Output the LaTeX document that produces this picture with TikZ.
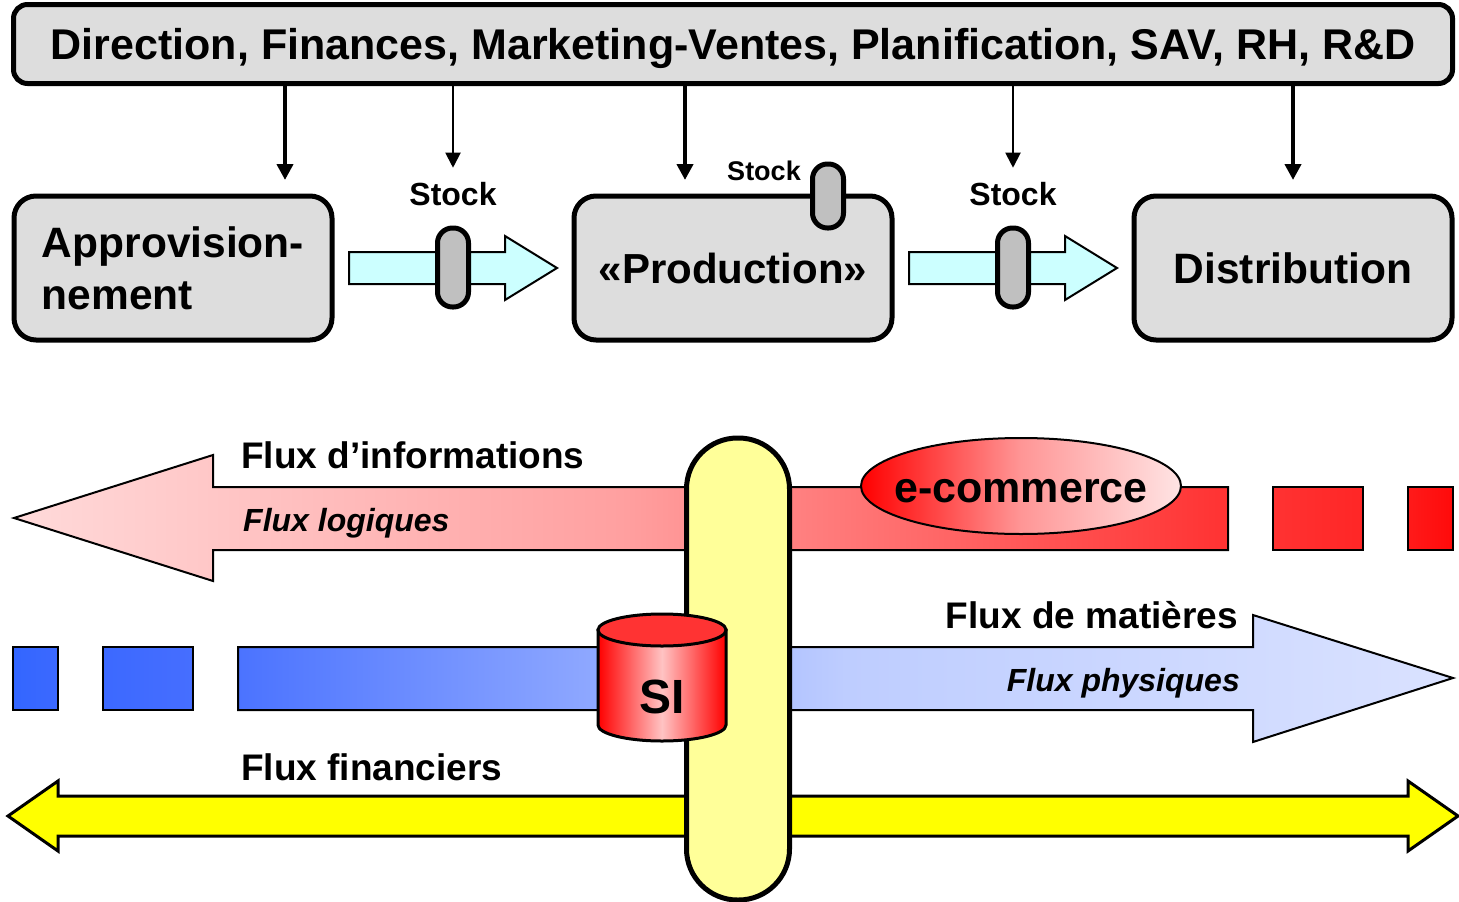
\documentclass[tikz,border=0pt]{standalone}
\usepackage{fontspec}
\setmainfont{Liberation Sans}
\usetikzlibrary{arrows.meta,positioning,shapes,calc}
\definecolor{boxgray}{RGB}{221,221,221}
\definecolor{pillgray}{RGB}{192,192,192}
\definecolor{stockcyan}{RGB}{204,255,255}
\definecolor{busyellow}{RGB}{255,255,153}
\definecolor{fluxyellow}{RGB}{255,255,0}
\definecolor{siared}{RGB}{255,51,51}
\definecolor{sipale}{RGB}{255,195,195}
\definecolor{purered}{RGB}{255,0,0}
\tikzset{
  % boites du haut
  procbox/.style={
    draw=black,
    line width=5pt,
    fill=boxgray,
    rounded corners=22pt,
    minimum width=318pt,
    minimum height=144pt,
    font=\fontsize{42.5}{52}\selectfont\bfseries
  },
  pill/.style={
    draw=black,
    line width=5pt,
    fill=pillgray,
    rounded corners=15pt,
    minimum width=31pt,
    inner sep=0pt
  },
  % fleches
  bigarr/.style={-{Triangle[length=16pt,width=16pt]}, line width=4.5pt, shorten >=15pt},
  thinarr/.style={-{Triangle[length=15pt,width=15pt]}, line width=2pt, shorten >=11pt},
  stockarr/.style={draw=black, line width=2pt, fill=stockcyan},
  fluxlab/.style={font=\fontsize{37}{40}\selectfont\bfseries},
  fluxsub/.style={font=\fontsize{32}{36}\selectfont\bfseries\itshape},
  stocklab/.style={font=\fontsize{32}{34}\selectfont\bfseries},
}
\begin{document}
\begin{tikzpicture}[x=1pt,y=-1pt]
  \useasboundingbox (0,0) rectangle (1459,902);

  % Direction
  \node[draw=black, line width=5pt, fill=boxgray, rounded corners=14pt,
        minimum width=1439pt, minimum height=79pt, text depth=0pt,
        font=\fontsize{43}{46}\selectfont\bfseries] (dir) at (733,44)
        {Direction, Finances, Marketing-Ventes, Planification, SAV, RH, R\&D};

  % Processus
  \node[procbox, align=left] (appro) at (173,268) {Approvision-\\nement};
  \node[procbox, font=\fontsize{42}{52}\selectfont\bfseries] (prod) at (733,268) {«Production»};
  \node[procbox] (distrib) at (1293,268) {Distribution};

  % Stocks
  \node[stocklab] (stockA) at (453,194) {Stock};
  \node[stocklab] (stockB) at (1013,194) {Stock};
  \node[font=\fontsize{27}{30}\selectfont\bfseries] (stockC) at (764,171) {Stock};
  \draw[stockarr] (349,252) -- (505,252) -- (505,236) -- (557,268) -- (505,300) -- (505,284) -- (349,284) -- cycle;
  \draw[stockarr] (909,252) -- (1065,252) -- (1065,236) -- (1117,268) -- (1065,300) -- (1065,284) -- (909,284) -- cycle;
  \node[pill, minimum height=79pt] (pillA) at (453,267.5) {};
  \node[pill, minimum height=79pt] (pillB) at (1013,267.5) {};
  \node[pill, minimum height=64pt] (pillC) at (828,196) {};

  \coordinate (approin) at (285,195);
  \coordinate (prodin) at (685,195);
  \coordinate (distribin) at (1293,195);
  \draw[bigarr] (dir.south -| approin) -- (approin);
  \draw[bigarr] (dir.south -| prodin) -- (prodin);
  \draw[bigarr] (dir.south -| distribin) -- (distribin);
  \draw[thinarr] (dir.south -| stockA) -- (stockA.north);
  \draw[thinarr] (dir.south -| stockB) -- (stockB.north);

  % Flux d'informations
  \path[draw=black, line width=2pt, left color={rgb,255:red,255;green,218;blue,218},
        right color={rgb,255:red,255;green,50;blue,50}, middle color={rgb,255:red,255;green,160;blue,160}]
    (14,518) -- (213,455) -- (213,487) -- (1228,487) -- (1228,550) -- (213,550) -- (213,581) -- cycle;
  \path[draw=black, line width=2pt, left color={rgb,255:red,255;green,50;blue,50}, right color={rgb,255:red,255;green,38;blue,38}]
    (1273,487) rectangle (1363,550);
  \path[draw=black, line width=2pt, left color={rgb,255:red,255;green,26;blue,26}, right color={rgb,255:red,255;green,10;blue,10}]
    (1408,487) rectangle (1453,550);

  % Flux de matieres
  \path[draw=black, line width=2pt, left color={rgb,255:red,51;green,102;blue,255}, right color={rgb,255:red,60;green,105;blue,255}]
    (13,647) rectangle (58,710);
  \path[draw=black, line width=2pt, left color={rgb,255:red,60;green,105;blue,255}, right color={rgb,255:red,70;green,110;blue,255}]
    (103,647) rectangle (193,710);
  \path[draw=black, line width=2pt, left color={rgb,255:red,75;green,115;blue,255},
        right color={rgb,255:red,218;green,226;blue,255}, middle color={rgb,255:red,190;green,205;blue,255}]
    (238,647) -- (1253,647) -- (1253,615) -- (1453,678) -- (1253,742) -- (1253,710) -- (238,710) -- cycle;

  % Flux financiers
  \draw[draw=black, line width=3pt, fill=fluxyellow]
    (8,816) -- (58,781) -- (58,796) -- (1408,796) -- (1408,781) -- (1458,816) -- (1408,851) -- (1408,836) -- (58,836) -- (58,851) -- cycle;

  % Bus central
  \node[draw=black, line width=5pt, fill=busyellow, rounded corners=51pt,
        minimum width=103pt, minimum height=462pt] (bus) at (738,669) {};

  % SI
  \path[draw=black, line width=3pt, left color=purered, right color=purered, middle color=sipale]
    (598,630) -- (598,725) arc[start angle=180, end angle=360, x radius=64, y radius=-16] -- (726,630) -- cycle;
  \draw[draw=black, line width=3pt, fill=siared] (662,630) ellipse [x radius=64, y radius=16];
  \node[font=\fontsize{48}{50}\selectfont\bfseries] (si) at (662,697) {SI};

  % e-commerce
  \path[draw=black, line width=2pt, left color=purered, right color={rgb,255:red,255;green,228;blue,228},
        middle color={rgb,255:red,255;green,150;blue,150}] (1021,486) ellipse [x radius=160, y radius=48];
  \node[text depth=0pt, font=\fontsize{43}{46}\selectfont\bfseries] (ecom) at (1021,491) {e-commerce};

  % Libelles
  \node[fluxlab, anchor=west, inner sep=0pt] (infos) at (241,455) {Flux d’informations};
  \node[fluxsub, anchor=west, inner sep=0pt] (logiques) at (243,523) {Flux logiques};
  \node[fluxlab, anchor=east, inner sep=0pt] (matieres) at (1238,615) {Flux de matières};
  \node[fluxsub, anchor=east, inner sep=0pt] (physiques) at (1240,683) {Flux physiques};
  \node[fluxlab, anchor=west, inner sep=0pt] (financiers) at (241,767) {Flux financiers};
\end{tikzpicture}
\end{document}
